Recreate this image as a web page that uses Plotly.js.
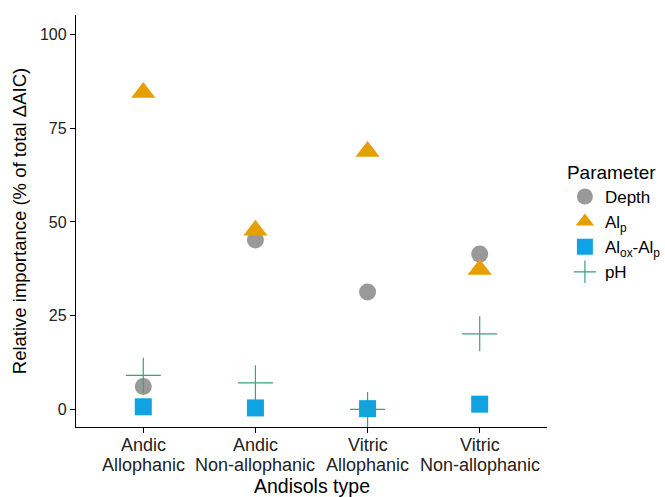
<!DOCTYPE html>
<html>
<head>
<meta charset="utf-8">
<script src="https://cdn.plot.ly/plotly-3.0.1.min.js"></script>
<style>html,body{margin:0;padding:0;background:#fff;}#chart{width:665px;height:497px;}</style>
</head>
<body>
<div id="chart"></div>
<script>
const categories = ["Andic\nAllophanic", "Andic\nNon-allophanic", "Vitric\nAllophanic", "Vitric\nNon-allophanic"];
const catPos = [1, 2, 3, 4];
const depth = [6.0, 45.2, 31.3, 41.4];
const alp = [84.6, 47.8, 68.8, 37.3];
const aloxAlp = [0.6, 0.3, 0.1, 1.3];
const ph = [9.0, 7.0, -0.1, 20.1];
const seriesNames = ["Depth", "Al<sub>p</sub>", "Al<sub>ox</sub>-Al<sub>p</sub>", "pH"];
const yTicks = [0, 25, 50, 75, 100];
const xTitle = "Andisols type";
const yTitle = "Relative importance (% of total ΔAIC)";

const font = "Liberation Sans, Arial, sans-serif";

const traces = [
  {x: catPos, y: depth, name: seriesNames[0], type: "scatter", mode: "markers",
   marker: {symbol: "circle", size: 17, color: "#999999"}},
  {x: catPos, y: alp, name: seriesNames[1], type: "scatter", mode: "markers",
   marker: {symbol: "triangle-up", size: 21, color: "#E69F00"}},
  {x: catPos, y: aloxAlp, name: seriesNames[2], type: "scatter", mode: "markers",
   marker: {symbol: "square", size: 17, color: "#0FA3E3"}},
  {x: catPos, y: ph, name: seriesNames[3], type: "scatter", mode: "markers",
   marker: {symbol: "cross-thin-open", size: 25, color: "#3F9F7A", line: {color: "#3F9F7A", width: 1.2}}}
];

// x tick labels drawn line by line (tight line spacing like the reference)
const annotations = [];
categories.forEach((c, i) => {
  c.split("\n").forEach((line, j) => {
    annotations.push({
      x: catPos[i], xref: "x", y: 0, yref: "paper",
      text: line, showarrow: false, xanchor: "center", yanchor: "middle",
      yshift: -18 - 20 * j, font: {size: 18, color: "#222"}
    });
  });
});
annotations.push({
  x: 0.5, xref: "paper", y: 0, yref: "paper", text: xTitle, showarrow: false,
  xanchor: "center", yanchor: "middle", yshift: -59, font: {size: 19.5, color: "#000"}
});

const layout = {
  width: 665, height: 497,
  margin: {l: 76, r: 118, t: 15, b: 70, autoexpand: false},
  paper_bgcolor: "#fff", plot_bgcolor: "#fff",
  font: {family: font, color: "#000", size: 15},
  showlegend: true,
  xaxis: {
    range: [0.4, 4.6], tickvals: catPos, showticklabels: false,
    showline: true, linecolor: "#000", linewidth: 1.2, mirror: false,
    ticks: "outside", ticklen: 5, tickcolor: "#000", tickwidth: 1,
    showgrid: false, zeroline: false
  },
  yaxis: {
    range: [-4.8, 105.3], tickvals: yTicks,
    showline: true, linecolor: "#000", linewidth: 1.2,
    ticks: "outside", ticklen: 5, tickcolor: "#000", tickwidth: 1,
    showgrid: false, zeroline: false,
    tickfont: {size: 16, color: "#222"},
    title: {text: yTitle, font: {size: 18.5}, standoff: 8}
  },
  annotations: annotations,
  legend: {
    x: 1.038, xanchor: "left", y: 0.662, yanchor: "top",
    title: {text: "Parameter", font: {size: 19}},
    font: {size: 17}, bgcolor: "rgba(0,0,0,0)", tracegroupgap: 0
  }
};

Plotly.newPlot("chart", traces, layout, {displayModeBar: false, staticPlot: true});
</script>
</body>
</html>
